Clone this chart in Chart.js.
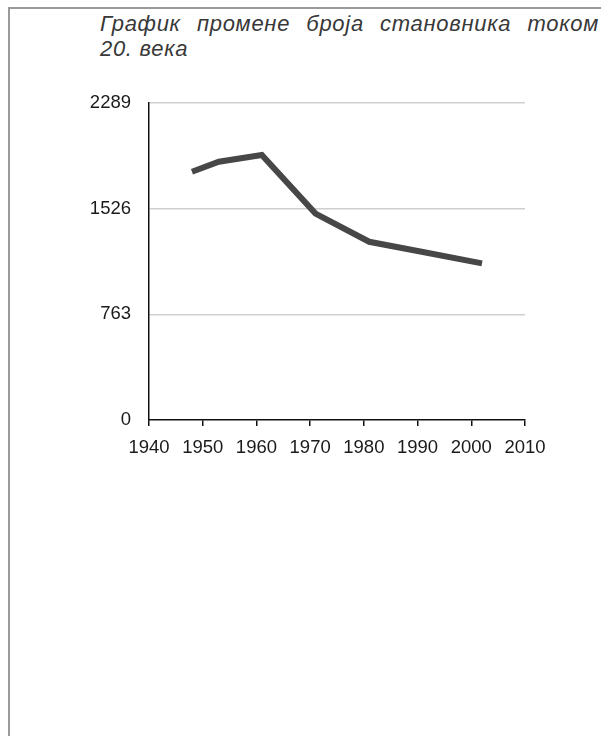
<!DOCTYPE html>
<html>
<head>
<meta charset="utf-8">
<script src="https://cdn.jsdelivr.net/npm/chart.js@4"></script>
<style>
    body { margin: 0; background: #fff; }
    #wrap { position: relative; width: 601px; height: 736px; overflow: hidden; }
    #frame { position: absolute; left: 8px; top: 7px; width: 620px; height: 760px;
             border-top: 2px solid #9a9a9a; border-left: 2px solid #9a9a9a; }
    .title { position: absolute; left: 100px; width: 499px;
             font: italic 22px "Liberation Sans", Arial, sans-serif; line-height: 25px;
             letter-spacing: 0.7px; color: #383838; }
    #t1 { top: 11px; text-align: justify; text-align-last: justify; }
    #t2 { top: 36px; text-align: left; }
    #myChart { position: absolute; left: 0; top: 0; }
</style>
</head>
<body>
<div id="wrap">
    <div id="frame"></div>
    <div class="title" id="t1">График промене броја становника током</div>
    <div class="title" id="t2">20. века</div>
    <canvas id="myChart" width="601" height="736"></canvas>
</div>
<script>
// године пописа и број становника
const years = [1948, 1953, 1961, 1971, 1981, 1991, 2002];
const population = [1793, 1865, 1913, 1490, 1287, 1213, 1131];
const yTicks = [0, 763, 1526, 2289];

const points = years.map((y, i) => ({ x: y, y: population[i] }));

const config = {
    type: 'line',
    data: {
        datasets: [{
            data: points,
            borderColor: '#474747',
            borderWidth: 6,
            pointRadius: 0,
            tension: 0,
            borderCapStyle: 'butt',
        }]
    },
    options: {
        responsive: false,
        animation: false,
        layout: {
            padding: { left: 0, top: 103, right: 76, bottom: 276 }
        },
        scales: {
            x: {
                type: 'linear',
                min: 1940,
                max: 2010,
                afterFit: scale => { scale.height = 40; },
                ticks: {
                    stepSize: 10,
                    color: '#1a1a1a',
                    padding: 11,
                    maxRotation: 0,
                    font: { family: 'Liberation Sans', size: 18.5 },
                    callback: v => String(v),
                },
                grid: {
                    drawOnChartArea: false,
                    drawTicks: true,
                    tickLength: 6,
                    color: '#111',
                    lineWidth: 1.5,
                },
                border: { color: '#111', width: 1.5 },
            },
            y: {
                min: 0,
                max: 2289,
                afterFit: scale => { scale.width = 149; },
                afterBuildTicks: scale => {
                    scale.ticks = yTicks.map(v => ({ value: v }));
                },
                ticks: {
                    color: '#1a1a1a',
                    padding: 18,
                    font: { family: 'Liberation Sans', size: 18.5 },
                    callback: v => String(v),
                },
                grid: {
                    drawTicks: false,
                    color: ctx => ctx.tick && ctx.tick.value === 0 ? 'rgba(0,0,0,0)' : '#cfcfcf',
                    lineWidth: 1.5,
                },
                border: { color: '#111', width: 1.5 },
            }
        },
        plugins: {
            legend: { display: false },
            tooltip: { enabled: false },
        }
    }
};

const myChart = new Chart(document.getElementById('myChart'), config);
</script>
</body>
</html>
